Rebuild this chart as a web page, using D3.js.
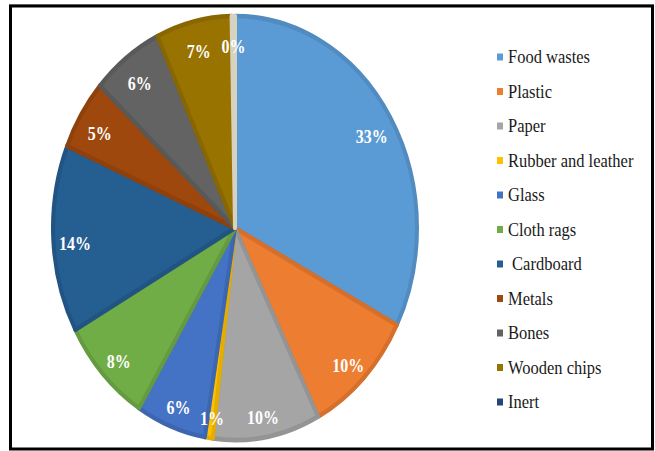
<!DOCTYPE html>
<html>
<head>
<meta charset="utf-8">
<script src="https://cdn.jsdelivr.net/npm/d3@7"></script>
<style>
  html, body { margin: 0; padding: 0; background: #fff; }
  svg { display: block; }
</style>
</head>
<body>
<svg id="chart" width="655" height="451"></svg>
<script>
// ---- data ----
const categories = ["Food wastes", "Plastic", "Paper", "Rubber and leather", "Glass",
  "Cloth rags", "Cardboard", "Metals", "Bones", "Wooden chips", "Inert"];
const legendLabels = ["Food wastes", "Plastic", "Paper", "Rubber and leather", "Glass",
  "Cloth rags", " Cardboard", "Metals", "Bones", "Wooden chips", "Inert"];
const values = [32.6, 9.9, 9.5, 0.7, 6.2, 8.2, 14.3, 5.4, 6.3, 6.7, 0.3];
const colors = ["#5B9BD5", "#ED7D31", "#A5A5A5", "#FFC000", "#4472C4",
  "#70AD47", "#255E91", "#9E480E", "#636363", "#997300", "#EFE9D6"];
const legendColors = ["#5B9BD5", "#ED7D31", "#A5A5A5", "#FFC000", "#4472C4",
  "#70AD47", "#255E91", "#9E480E", "#636363", "#997300", "#264478"];

const svg = d3.select("#chart");

// frame
svg.append("line").attr("x1", 9).attr("x2", 654).attr("y1", 4.5).attr("y2", 4.5)
  .attr("stroke", "#bbb").attr("stroke-width", 1);
svg.append("rect")
  .attr("x", 10.5).attr("y", 6).attr("width", 642).attr("height", 443)
  .attr("fill", "#fff").attr("stroke", "#000").attr("stroke-width", 3);

// pie
const cx = 235, cy = 228, r = 182, sy = 212 / 182;
const data = categories.map((c, i) => ({ name: c, value: values[i], color: colors[i] }));
const pie = d3.pie().value(d => d.value).sort(null);
const arcs = pie(data);
const arc = d3.arc().innerRadius(0).outerRadius(r);
const labelArc = d3.arc().innerRadius(r * 0.88).outerRadius(r * 0.88);

const g = svg.append("g").attr("transform", `translate(${cx},${cy}) scale(1,${sy})`);

g.selectAll("path.slice").data(arcs).join("path")
  .attr("class", "slice")
  .attr("d", arc)
  .attr("fill", d => d.data.color)
  .attr("stroke", d => d3.color(d.data.color).darker(0.3))
  .attr("stroke-width", 4)
  .attr("stroke-linejoin", "round");

// labels
const lblG = svg.append("g").attr("transform", `translate(${cx},${cy + 6})`);
lblG.selectAll("text.lbl").data(arcs).join("text")
  .attr("class", "lbl")
  .attr("transform", d => {
    const [x, y] = labelArc.centroid(d);
    return `translate(${x},${y * sy}) scale(1,${sy})`;
  })
  .attr("text-anchor", "middle")
  .attr("dominant-baseline", "central")
  .attr("font-family", "'Liberation Serif', 'Times New Roman', serif")
  .attr("font-weight", "bold")
  .attr("font-size", 16)
  .attr("fill", "#fff")
  .text(d => Math.round(d.data.value) + "%");

// legend
const ly = d3.scalePoint().domain(categories).range([57, 402]);
const lg = svg.append("g");
const rows = lg.selectAll("g.row").data(categories).join("g")
  .attr("class", "row")
  .attr("transform", d => `translate(497,${ly(d)})`);
rows.append("rect")
  .attr("x", 0).attr("y", -3.5).attr("width", 6).attr("height", 7)
  .attr("fill", (d, i) => legendColors[i]);
rows.append("text")
  .attr("transform", "translate(11,0) scale(1,1.12)")
  .attr("dominant-baseline", "central")
  .attr("font-family", "'Liberation Serif', 'Times New Roman', serif")
  .attr("font-size", 16.5)
  .attr("fill", "#1a1a1a")
  .style("white-space", "pre")
  .text((d, i) => legendLabels[i]);
</script>
</body>
</html>
